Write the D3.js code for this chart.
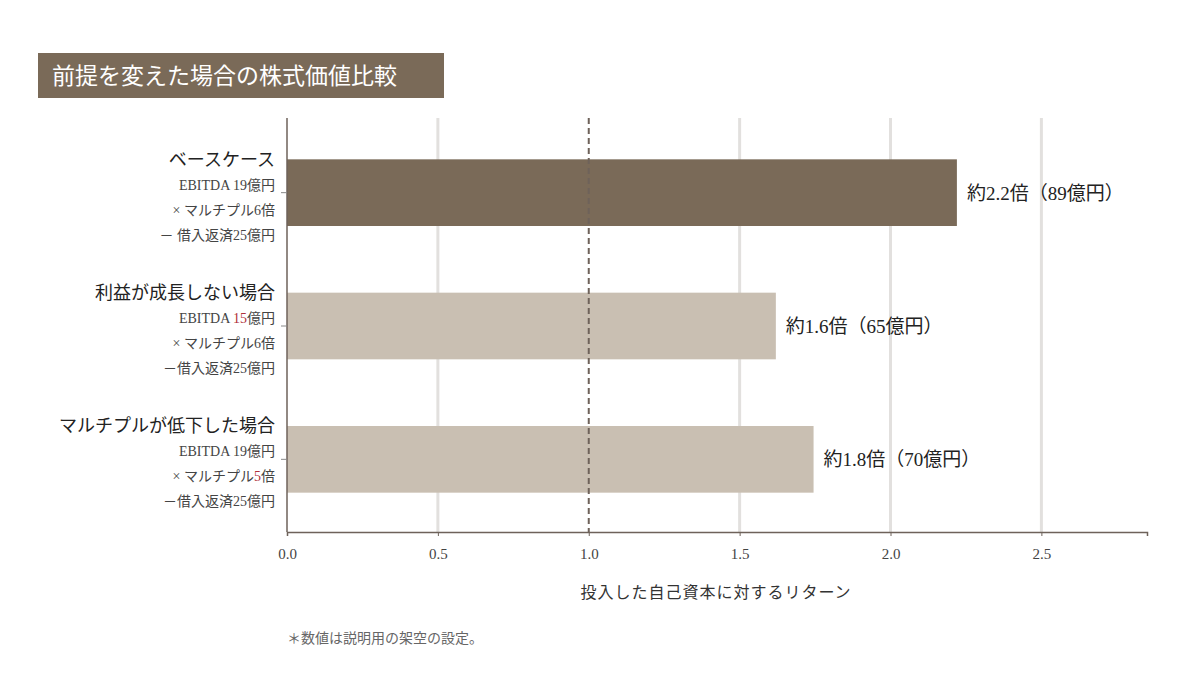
<!DOCTYPE html>
<html><head><meta charset="utf-8">
<script src="https://cdn.jsdelivr.net/npm/d3@7"></script>
<style>body{margin:0;background:#fff}text{font-family:"Liberation Serif","Noto Sans CJK JP",serif}</style>
</head><body><svg id="c" width="1200" height="675"></svg>
<script>
const scenarios = ["ベースケース", "利益が成長しない場合", "マルチプルが低下した場合"];
const returns = [2.22, 1.62, 1.745];
const valueLabels = ["約2.2倍（89億円）", "約1.6倍（65億円）", "約1.8倍（70億円）"];
const ebitda = ["19", "15", "19"];
const multiple = ["6", "6", "5"];
const highlight = [[false, false], [true, false], [false, true]];
const debtLine = ["－ 借入返済25億円", "－借入返済25億円", "－借入返済25億円"];
const xTicks = [0, 0.5, 1.0, 1.5, 2.0, 2.5];

const svg = d3.select("#c");
const plotL = 287, plotR = 1147, plotT = 118, plotB = 532;
const x = d3.scaleLinear().domain([0, 2.85]).range([plotL, plotR]);
const y = d3.scaleBand().domain(scenarios).range([126, 526]).paddingInner(0.5).paddingOuter(0.25);

svg.append("rect").attr("x", 38).attr("y", 53).attr("width", 406).attr("height", 45).attr("fill", "#7a6a58");
svg.append("text").attr("x", 52).attr("y", 84).attr("fill", "#fff").attr("font-size", 23).text("前提を変えた場合の株式価値比較");

svg.selectAll(".grid").data(xTicks.filter(d => d > 0 && d !== 1)).join("line")
  .attr("x1", d => x(d)).attr("x2", d => x(d)).attr("y1", plotT).attr("y2", plotB)
  .attr("stroke", "#e2e0de").attr("stroke-width", 3);

svg.selectAll(".bar").data(returns).join("rect")
  .attr("x", x(0)).attr("y", (d, i) => y(scenarios[i]))
  .attr("width", d => x(d) - x(0)).attr("height", y.bandwidth())
  .attr("fill", (d, i) => i === 0 ? "#7a6a58" : "#c9bfb2");

svg.append("line").attr("x1", x(1)).attr("x2", x(1)).attr("y1", plotT).attr("y2", plotB)
  .attr("stroke", "#6e625a").attr("stroke-width", 2).attr("stroke-dasharray", "6,4");

svg.selectAll(".vl").data(valueLabels).join("text")
  .attr("x", (d, i) => x(returns[i]) + 10).attr("y", (d, i) => y(scenarios[i]) + y.bandwidth() / 2 + 7)
  .attr("font-size", 19).attr("fill", "#222").text(d => d);

const ax = svg.append("g").attr("transform", `translate(0,${plotB})`)
  .call(d3.axisBottom(x).tickValues(xTicks).tickFormat(d3.format(".1f")).tickSize(4));
ax.select(".domain").attr("stroke", "#6e625a").attr("stroke-width", 1.5);
ax.selectAll(".tick line").attr("stroke", "#6e625a");
ax.selectAll("text").attr("font-size", 15).attr("fill", "#444").attr("dy", "1.3em")
  .style("font-family", "Liberation Serif, serif");

svg.append("line").attr("x1", plotL).attr("x2", plotL).attr("y1", plotT).attr("y2", plotB)
  .attr("stroke", "#6e625a").attr("stroke-width", 1.5);

scenarios.forEach((s, i) => {
  const cy = y(s) + y.bandwidth() / 2;
  svg.append("line").attr("x1", plotL - 6).attr("x2", plotL).attr("y1", cy).attr("y2", cy).attr("stroke", "#888");
  svg.append("text").attr("x", 275).attr("y", cy - 27).attr("text-anchor", "end")
    .attr("font-size", 18).attr("fill", "#222").text(s);
  const t1 = svg.append("text").attr("x", 275).attr("y", cy - 3).attr("text-anchor", "end").attr("font-size", 14).attr("fill", "#444");
  t1.append("tspan").text("EBITDA ");
  t1.append("tspan").attr("fill", highlight[i][0] ? "#b0303a" : "#444").text(ebitda[i]);
  t1.append("tspan").text("億円");
  const t2 = svg.append("text").attr("x", 275).attr("y", cy + 22).attr("text-anchor", "end").attr("font-size", 14).attr("fill", "#444");
  t2.append("tspan").text("× マルチプル");
  t2.append("tspan").attr("fill", highlight[i][1] ? "#b0303a" : "#444").text(multiple[i]);
  t2.append("tspan").text("倍");
  svg.append("text").attr("x", 275).attr("y", cy + 47).attr("text-anchor", "end")
    .attr("font-size", 14).attr("fill", "#444").text(debtLine[i]);
});

svg.append("text").attr("x", 716).attr("y", 598).attr("text-anchor", "middle")
  .attr("font-size", 16).attr("fill", "#333").attr("letter-spacing", 1).text("投入した自己資本に対するリターン");
svg.append("text").attr("x", 287).attr("y", 643).attr("font-size", 14).attr("fill", "#666").text("＊数値は説明用の架空の設定。");
</script></body></html>
